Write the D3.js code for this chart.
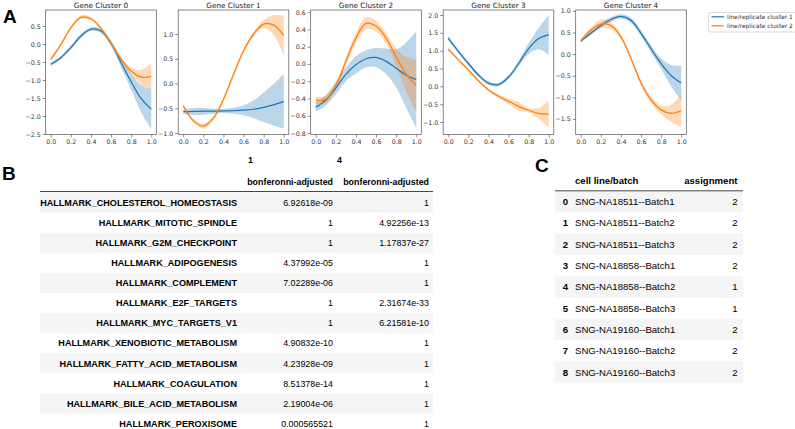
<!DOCTYPE html>
<html><head><meta charset="utf-8">
<script src="https://cdn.jsdelivr.net/npm/d3@7"></script>
<style>body{margin:0;background:#fff}svg{display:block}</style>
</head><body>
<svg id="c" width="795" height="429"></svg>
<script>
// ---------- DATA ----------
const xs = [0,0.1,0.2,0.3,0.4,0.5,0.6,0.7,0.8,0.9,1.0];
const clusterTitles = ["Gene Cluster 0","Gene Cluster 1","Gene Cluster 2","Gene Cluster 3","Gene Cluster 4"];
const seriesNames = ["line/replicate cluster 1","line/replicate cluster 2"];

const c0Blue = [-0.565,-0.38,-0.1,0.22,0.41,0.36,0.02,-0.52,-1.05,-1.52,-1.81];
const c0BlueErr = [0.05,0.05,0.06,0.06,0.05,0.06,0.08,0.12,0.22,0.38,0.55];
const c0Orange = [-0.43,-0.02,0.45,0.74,0.7,0.43,0.02,-0.42,-0.75,-0.92,-0.9];
const c0OrangeErr = [0.04,0.04,0.04,0.05,0.05,0.05,0.05,0.06,0.1,0.2,0.37];

const c1Blue = [-0.57,-0.565,-0.56,-0.56,-0.555,-0.55,-0.54,-0.52,-0.48,-0.43,-0.36];
const c1BlueErr = [0.05,0.07,0.07,0.05,0.04,0.06,0.1,0.18,0.3,0.42,0.55];
const c1Orange = [-0.45,-0.75,-0.86,-0.7,-0.32,0.18,0.66,1.0,1.2,1.18,0.97];
const c1OrangeErr = [0.04,0.04,0.05,0.04,0.04,0.04,0.04,0.05,0.08,0.2,0.4];

const c2Blue = [-0.5,-0.42,-0.28,-0.12,-0.01,0.06,0.075,0.03,-0.05,-0.13,-0.18];
const c2BlueErr = [0.05,0.06,0.07,0.08,0.1,0.1,0.11,0.15,0.22,0.38,0.56];
const c2Orange = [-0.42,-0.41,-0.25,0.03,0.3,0.47,0.44,0.3,0.08,-0.12,-0.25];
const c2OrangeErr = [0.04,0.04,0.04,0.05,0.06,0.07,0.06,0.06,0.1,0.2,0.3];

const c3Blue = [1.35,0.98,0.64,0.32,0.09,0.05,0.26,0.64,1.06,1.34,1.44];
const c3BlueErr = [0.06,0.05,0.05,0.05,0.05,0.05,0.06,0.08,0.15,0.3,0.56];
const c3Orange = [1.04,0.75,0.46,0.16,-0.1,-0.28,-0.42,-0.56,-0.67,-0.76,-0.78];
const c3OrangeErr = [0.04,0.04,0.04,0.04,0.04,0.05,0.08,0.12,0.06,0.15,0.38];

const c4Blue = [0.3,0.48,0.66,0.8,0.87,0.78,0.48,0.12,-0.22,-0.5,-0.67];
const c4BlueErr = [0.04,0.04,0.05,0.05,0.05,0.06,0.07,0.08,0.12,0.25,0.4];
const c4Orange = [0.3,0.55,0.7,0.66,0.4,-0.1,-0.67,-1.06,-1.29,-1.37,-1.31];
const c4OrangeErr = [0.04,0.06,0.1,0.08,0.05,0.05,0.06,0.08,0.1,0.2,0.38];

const yDomains = [[-2.514,0.944],[-1.03,1.485],[-0.817,0.625],[-1.35,2.14],[-1.86,1.02]];
const yTicks = [
  [0.5,0,-0.5,-1,-1.5,-2,-2.5],
  [1,0.5,0,-0.5,-1],
  [0.6,0.4,0.2,0,-0.2,-0.4,-0.6,-0.8],
  [2,1.5,1,0.5,0,-0.5,-1],
  [1,0.5,0,-0.5,-1,-1.5]
];
const xTicks = [0,0.2,0.4,0.6,0.8,1.0];

const hallmarkNames = ["HALLMARK_CHOLESTEROL_HOMEOSTASIS","HALLMARK_MITOTIC_SPINDLE","HALLMARK_G2M_CHECKPOINT","HALLMARK_ADIPOGENESIS","HALLMARK_COMPLEMENT","HALLMARK_E2F_TARGETS","HALLMARK_MYC_TARGETS_V1","HALLMARK_XENOBIOTIC_METABOLISM","HALLMARK_FATTY_ACID_METABOLISM","HALLMARK_COAGULATION","HALLMARK_BILE_ACID_METABOLISM","HALLMARK_PEROXISOME"];
const pvalCluster1 = ["6.92618e-09","1","1","4.37992e-05","7.02289e-06","1","1","4.90832e-10","4.23928e-09","8.51378e-14","2.19004e-06","0.000565521"];
const pvalCluster4 = ["1","4.92256e-13","1.17837e-27","1","1","2.31674e-33","6.21581e-10","1","1","1","1","1"];
const tableBHeaders = ["1","4"];
const tableBSubHeader = "bonferonni-adjusted";

const cellLines = ["SNG-NA18511--Batch1","SNG-NA18511--Batch2","SNG-NA18511--Batch3","SNG-NA18858--Batch1","SNG-NA18858--Batch2","SNG-NA18858--Batch3","SNG-NA19160--Batch1","SNG-NA19160--Batch2","SNG-NA19160--Batch3"];
const assignments = [2,2,2,2,1,1,2,2,2];

// ---------- DRAW ----------
const svg = d3.select("#c");
const BLUE = "#1f77b4", ORANGE = "#ff7f0e";
const mplFont = "'DejaVu Sans', sans-serif";
const tblFont = "'Liberation Sans', Arial, sans-serif";
const fmt = v => d3.format(".1f")(v).replace("-", "\u2212");

const panels = [
  [c0Blue,c0BlueErr,c0Orange,c0OrangeErr],
  [c1Blue,c1BlueErr,c1Orange,c1OrangeErr],
  [c2Blue,c2BlueErr,c2Orange,c2OrangeErr],
  [c3Blue,c3BlueErr,c3Orange,c3OrangeErr],
  [c4Blue,c4BlueErr,c4Orange,c4OrangeErr]
];

const pTop = 10, pBottom = 134.5, pw = 110.6;
panels.forEach((p, i) => {
  const L = 45.7 + 132.5 * i;
  const x = d3.scaleLinear().domain([-0.05, 1.05]).range([L, L + pw]);
  const y = d3.scaleLinear().domain(yDomains[i]).range([pBottom, pTop]);
  const g = svg.append("g");
  const clipId = "clip" + i;
  g.append("clipPath").attr("id", clipId).append("rect")
    .attr("x", L).attr("y", pTop).attr("width", pw).attr("height", pBottom - pTop);
  const plot = g.append("g").attr("clip-path", `url(#${clipId})`);
  const curve = d3.curveCatmullRom.alpha(0.5);
  const series = [[p[0], p[1], BLUE], [p[2], p[3], ORANGE]];
  series.forEach(([m, e, col]) => {
    const pts = xs.map((xv, k) => ({x: xv, m: m[k], e: e[k]}));
    plot.append("path").datum(pts)
      .attr("d", d3.area().curve(curve).x(d => x(d.x)).y0(d => y(d.m - d.e)).y1(d => y(d.m + d.e)))
      .attr("fill", col).attr("fill-opacity", 0.3).attr("stroke", "none");
  });
  series.forEach(([m, e, col]) => {
    const pts = xs.map((xv, k) => ({x: xv, m: m[k]}));
    plot.append("path").datum(pts)
      .attr("d", d3.line().curve(curve).x(d => x(d.x)).y(d => y(d.m)))
      .attr("fill", "none").attr("stroke", col).attr("stroke-width", 1.25);
  });
  const ax = g.append("g").attr("transform", `translate(0,${pBottom})`)
    .call(d3.axisBottom(x).tickValues(xTicks).tickFormat(d3.format(".1f")).tickSize(3).tickSizeOuter(0));
  const ay = g.append("g").attr("transform", `translate(${L},0)`)
    .call(d3.axisLeft(y).tickValues(yTicks[i]).tickFormat(fmt).tickSize(3).tickSizeOuter(0));
  [ax, ay].forEach(a => {
    a.select(".domain").remove();
    a.selectAll(".tick line").attr("stroke", "#444").attr("stroke-width", 0.6);
    a.selectAll(".tick text").attr("font-family", mplFont).attr("font-size", 6.3).attr("fill", "#333");
  });
  ax.selectAll(".tick text").attr("dy", "0.9em").attr("y", 4);
  ay.selectAll(".tick text").attr("x", -5);
  g.append("rect").attr("x", L).attr("y", pTop).attr("width", pw).attr("height", pBottom - pTop)
    .attr("fill", "none").attr("stroke", "#555").attr("stroke-width", 0.7);
  g.append("text").attr("x", L + pw / 2).attr("y", 7.5).attr("text-anchor", "middle")
    .attr("font-family", mplFont).attr("font-size", 7.3).attr("fill", "#222").text(clusterTitles[i]);
});

// legend
const lg = svg.append("g");
lg.append("rect").attr("x", 708.5).attr("y", 12.5).attr("width", 90).attr("height", 19.5).attr("rx", 2)
  .attr("fill", "#fff").attr("stroke", "#ccc").attr("stroke-width", 0.7);
seriesNames.forEach((n, k) => {
  const yy = 16.8 + k * 9;
  lg.append("line").attr("x1", 711.5).attr("x2", 724).attr("y1", yy).attr("y2", yy)
    .attr("stroke", k ? ORANGE : BLUE).attr("stroke-width", 1.2);
  lg.append("text").attr("x", 727).attr("y", yy + 2.2).attr("font-family", mplFont)
    .attr("font-size", 5.9).attr("fill", "#333").text(n);
});

// panel labels
[["A", 3, 23], ["B", 2, 180], ["C", 535, 172]].forEach(([t, xx, yy]) => {
  svg.append("text").attr("x", xx).attr("y", yy).attr("font-family", tblFont).attr("font-weight", "bold")
    .attr("font-size", 19).attr("fill", "#000").text(t);
});

// table B
const bRowY = d3.scaleLinear().domain([0, 1]).range([202.5, 222.6]);
const bCols = {name: 237, c1: 333, c2: 429};
const tb = svg.append("g").attr("font-family", tblFont).attr("font-size", 8.9).attr("fill", "#000");
hallmarkNames.forEach((n, k) => {
  if (k % 2 === 0) tb.append("rect").attr("x", 40).attr("y", bRowY(k) - 10).attr("width", 393).attr("height", 20.1).attr("fill", "#f5f5f5");
});
tb.append("text").attr("x", 248).attr("y", 163).attr("font-weight", "bold").text(tableBHeaders[0]);
tb.append("text").attr("x", 337).attr("y", 163).attr("font-weight", "bold").text(tableBHeaders[1]);
tb.append("text").attr("x", bCols.c1).attr("y", 185).attr("text-anchor", "end").attr("font-weight", "bold").text(tableBSubHeader);
tb.append("text").attr("x", bCols.c2).attr("y", 185).attr("text-anchor", "end").attr("font-weight", "bold").text(tableBSubHeader);
tb.append("line").attr("x1", 40).attr("x2", 433).attr("y1", 191.5).attr("y2", 191.5).attr("stroke", "#333").attr("stroke-width", 0.9);
hallmarkNames.forEach((n, k) => {
  const yy = bRowY(k) + 3.2;
  tb.append("text").attr("x", bCols.name).attr("y", yy).attr("text-anchor", "end").attr("font-weight", "bold").attr("font-size", 9.1).text(n);
  tb.append("text").attr("x", bCols.c1).attr("y", yy).attr("text-anchor", "end").text(pvalCluster1[k]);
  tb.append("text").attr("x", bCols.c2).attr("y", yy).attr("text-anchor", "end").text(pvalCluster4[k]);
});

// table C
const cRowY = d3.scaleLinear().domain([0, 1]).range([201.7, 223]);
const tc = svg.append("g").attr("font-family", tblFont).attr("font-size", 9.6).attr("fill", "#000");
cellLines.forEach((n, k) => {
  if (k % 2 === 0) tc.append("rect").attr("x", 555).attr("y", cRowY(k) - 10.65).attr("width", 188).attr("height", 21.3).attr("fill", "#f5f5f5");
});
tc.append("text").attr("x", 575).attr("y", 183.5).attr("font-weight", "bold").text("cell line/batch");
tc.append("text").attr("x", 737.5).attr("y", 183.5).attr("text-anchor", "end").attr("font-weight", "bold").text("assignment");
tc.append("line").attr("x1", 555).attr("x2", 743).attr("y1", 190.8).attr("y2", 190.8).attr("stroke", "#333").attr("stroke-width", 0.9);
cellLines.forEach((n, k) => {
  const yy = cRowY(k) + 3.4;
  tc.append("text").attr("x", 565.5).attr("y", yy).attr("text-anchor", "middle").attr("font-weight", "bold").text(k);
  tc.append("text").attr("x", 575).attr("y", yy).text(n);
  tc.append("text").attr("x", 737.5).attr("y", yy).attr("text-anchor", "end").text(assignments[k]);
});
</script>
</body></html>
